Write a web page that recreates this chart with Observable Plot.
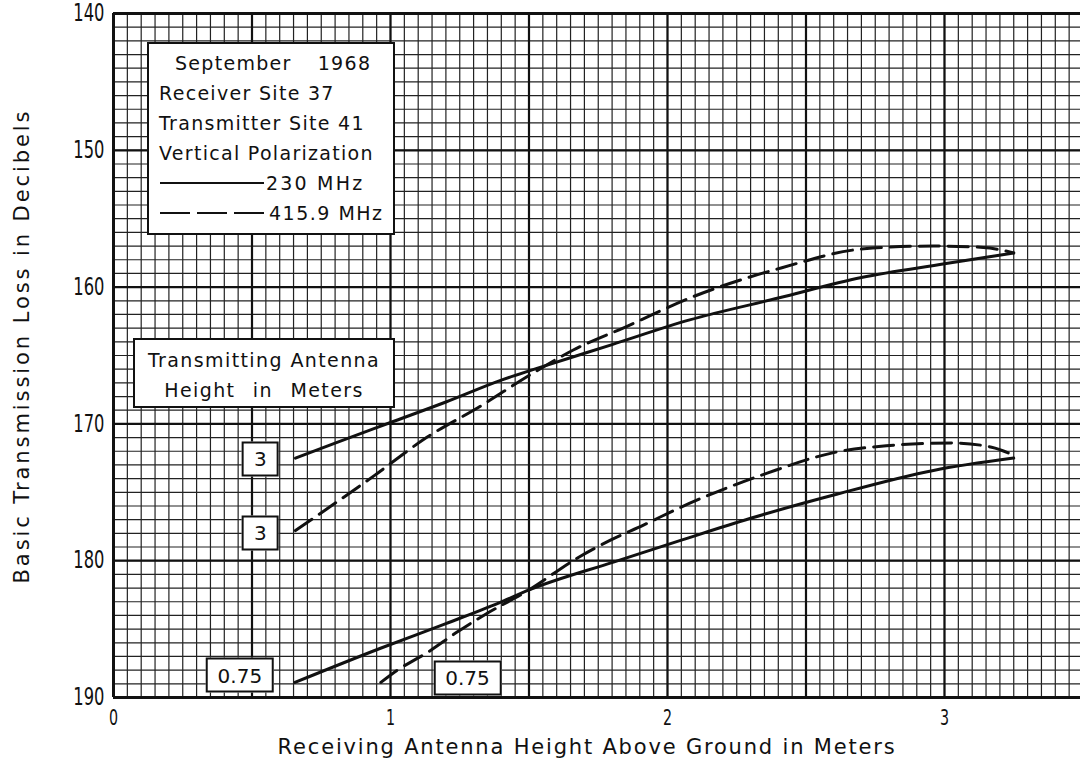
<!DOCTYPE html>
<html>
<head>
<meta charset="utf-8">
<script src="https://cdn.jsdelivr.net/npm/d3@7"></script>
<script src="https://cdn.jsdelivr.net/npm/@observablehq/plot@0.6"></script>
<style>
  body { margin: 0; background: #fff; }
  #wrap { position: relative; width: 1080px; height: 764px; overflow: hidden; font-family: "DejaVu Sans", "Noto Sans", sans-serif; color: #111; }
  #wrap > svg { position: absolute; left: 0; top: 0; }
  g[aria-label^="y-axis"] text { font-family: "DejaVu Sans", sans-serif; font-size: 24px; fill: #111; }
  g[aria-label^="x-axis"] text { font-family: "DejaVu Sans", sans-serif; font-size: 21px; fill: #111; }
  .box { position: absolute; background: #fff; border: 2px solid #111; box-sizing: border-box; }
  .legend { font-size: 19px; letter-spacing: 1.3px; line-height: 30px; padding: 4px 0 0 10px; white-space: nowrap; }
  .legend .row { height: 30px; display: flex; align-items: center; }
  .legend .row svg { display: block; }
  .tam { font-size: 19px; letter-spacing: 1.4px; line-height: 30px; padding-top: 5px; text-align: center; white-space: nowrap; }
  .lbl { display: flex; align-items: center; justify-content: center; height: 35px; min-width: 35px; padding: 0 10px; font-size: 20px; transform: translate(-50%, -50%); }
  .title { position: absolute; font-size: 21px; white-space: nowrap; }
</style>
</head>
<body>
<div id="wrap"></div>
<script>
// ---- Axis ticks ----
const xTicks = [0, 1, 2, 3];
const yTicks = [140, 150, 160, 170, 180, 190];

// ---- Curves (receiving antenna height in m, basic transmission loss in dB) ----
// Transmitting antenna height 3 m, 230 MHz (solid)
const tx3_230_x = [0.657, 0.80, 1.00, 1.20, 1.40, 1.52, 1.80, 2.08, 2.40, 2.70, 3.00, 3.25];
const tx3_230_y = [172.5, 171.4, 169.9, 168.4, 166.8, 166.0, 164.2, 162.4, 160.8, 159.3, 158.3, 157.5];
// Transmitting antenna height 3 m, 415.9 MHz (dashed)
const tx3_416_x = [0.657, 0.94, 1.13, 1.325, 1.505, 1.66, 1.85, 2.08, 2.41, 2.71, 2.96, 3.14, 3.25];
const tx3_416_y = [177.8, 173.8, 171.0, 168.7, 166.4, 164.6, 162.9, 160.8, 158.6, 157.2, 157.0, 157.1, 157.5];
// Transmitting antenna height 0.75 m, 230 MHz (solid)
const tx075_230_x = [0.655, 0.964, 1.20, 1.39, 1.505, 1.805, 2.05, 2.30, 2.60, 2.96, 3.25];
const tx075_230_y = [188.9, 186.4, 184.6, 183.1, 182.1, 180.1, 178.5, 176.9, 175.2, 173.4, 172.5];
// Transmitting antenna height 0.75 m, 415.9 MHz (dashed)
const tx075_416_x = [0.965, 1.025, 1.134, 1.242, 1.336, 1.495, 1.675, 1.794, 1.913, 2.047, 2.36, 2.60, 2.79, 3.03, 3.17, 3.25];
const tx075_416_y = [188.9, 188.0, 186.7, 185.2, 184.0, 182.2, 179.8, 178.5, 177.4, 176.1, 173.6, 172.1, 171.6, 171.4, 171.7, 172.3];

// ---- Curve labels (transmitting antenna height) ----
const labelText = ["3", "3", "0.75", "0.75"];
const labelX = [0.532, 0.532, 0.458, 1.28];
const labelY = [172.6, 178.0, 188.4, 188.6];

// ---- Legend text ----
const legendLines = ["September", "1968", "Receiver Site 37", "Transmitter Site 41", "Vertical Polarization", "230 MHz", "415.9 MHz"];
const boxLines = ["Transmitting Antenna", "Height in Meters"];
const xTitle = "Receiving Antenna Height Above Ground in Meters";
const yTitle = "Basic Transmission Loss in Decibels";

// build table
function series(xs, ys, name, freq) { return xs.map((x, i) => ({x, y: ys[i], name, freq})); }
const curves = [
  ...series(tx3_230_x, tx3_230_y, "3m-230", "230"),
  ...series(tx3_416_x, tx3_416_y, "3m-416", "415.9"),
  ...series(tx075_230_x, tx075_230_y, "0.75m-230", "230"),
  ...series(tx075_416_x, tx075_416_y, "0.75m-416", "415.9")
];

const xMax = 3.491;
const gridX = d3.range(0, 70).map(i => +(i * 0.05).toFixed(2));
const gridY = d3.range(140, 191);
const majorX = gridX.filter(v => Math.abs(v * 2 - Math.round(v * 2)) < 1e-6);
const majorY = gridY.filter(v => v % 10 === 0);

const plot = Plot.plot({
  width: 1080,
  height: 764,
  marginLeft: 113,
  marginRight: 0,
  marginTop: 13,
  marginBottom: 67,
  style: {background: "#fff", color: "#111"},
  x: {domain: [0, xMax], ticks: xTicks, tickSize: 0, tickPadding: 13, tickFormat: d => String(d), label: null},
  y: {domain: [140, 190], reverse: true, ticks: yTicks, tickSize: 0, tickPadding: 9, tickFormat: d => String(d), label: null},
  marks: [
    Plot.ruleX(gridX, {stroke: "#222", strokeWidth: 1.2}),
    Plot.ruleY(gridY, {stroke: "#222", strokeWidth: 1.2}),
    Plot.ruleX(majorX, {stroke: "#111", strokeWidth: 2.2}),
    Plot.ruleY(majorY, {stroke: "#111", strokeWidth: 2.2}),
    Plot.ruleX([0], {stroke: "#111", strokeWidth: 3}),
    Plot.ruleY([140, 190], {stroke: "#111", strokeWidth: 3}),
    Plot.line(curves.filter(d => d.freq === "230"), {x: "x", y: "y", z: "name", stroke: "#111", strokeWidth: 3, curve: "monotone-x"}),
    Plot.line(curves.filter(d => d.freq === "415.9"), {x: "x", y: "y", z: "name", stroke: "#111", strokeWidth: 3, strokeDasharray: "20,9", curve: "monotone-x"})
  ]
});

const wrap = document.getElementById("wrap");
wrap.appendChild(plot);

// condense tick labels horizontally (narrow lettering), anchored at their own position
function condense(selector, s, anchor) {
  plot.querySelectorAll(selector).forEach(t => {
    const b = t.getBBox();
    const cx = anchor === "end" ? b.x + b.width : b.x + b.width / 2;
    const cy = b.y + b.height / 2;
    const prev = t.getAttribute("transform") || "";
    t.setAttribute("transform", `${prev} translate(${cx},${cy}) scale(${s},1) translate(${-cx},${-cy})`);
  });
}
condense('g[aria-label^="y-axis"] text', 0.68, "end");
condense('g[aria-label^="x-axis"] text', 0.68, "middle");

const sx = plot.scale("x"), sy = plot.scale("y");
const fx = d3.scaleLinear().domain(sx.domain).range(sx.range);
const fy = d3.scaleLinear().domain(sy.domain).range(sy.range);

// Legend box
const leg = document.createElement("div");
leg.className = "box legend";
Object.assign(leg.style, {left: "147px", top: "42px", width: "248px", height: "193px"});
leg.innerHTML = `
  <div class="row"><span style="margin-left:16px">${legendLines[0]}</span><span style="margin-left:26px">${legendLines[1]}</span></div>
  <div class="row">${legendLines[2]}</div>
  <div class="row">${legendLines[3]}</div>
  <div class="row">${legendLines[4]}</div>
  <div class="row"><svg width="104" height="4" style="margin-left:1px"><line x1="0" x2="104" y1="2" y2="2" stroke="#111" stroke-width="2"/></svg><span style="margin-left:2px;letter-spacing:2.2px">${legendLines[5]}</span></div>
  <div class="row"><svg width="108" height="4" style="margin-left:1px"><line x1="0" x2="108" y1="2" y2="2" stroke="#111" stroke-width="2" stroke-dasharray="30,7"/></svg><span style="margin-left:1px;letter-spacing:1.5px">${legendLines[6]}</span></div>`;
wrap.appendChild(leg);

// Transmitting antenna box
const tam = document.createElement("div");
tam.className = "box tam";
Object.assign(tam.style, {left: "133px", top: "338px", width: "262px", height: "70px"});
tam.innerHTML = `<div>${boxLines[0]}</div><div style="word-spacing:10px">${boxLines[1]}</div>`;
wrap.appendChild(tam);

// Curve labels
labelText.forEach((t, i) => {
  const d = document.createElement("div");
  d.className = "box lbl";
  d.style.left = fx(labelX[i]) + "px";
  d.style.top = fy(labelY[i]) + "px";
  d.textContent = t;
  wrap.appendChild(d);
});

// Axis titles: spread letters over the span they cover in the original
function title(text, span) {
  const el = document.createElement("div");
  el.className = "title";
  el.textContent = text;
  wrap.appendChild(el);
  const w0 = el.getBoundingClientRect().width;
  el.style.letterSpacing = ((span - w0) / (text.length - 1)) + "px";
  return el;
}
const xt = title(xTitle, 617);
const xw = xt.getBoundingClientRect().width;
xt.style.left = (587 - xw / 2) + "px";
xt.style.top = (748 - 13) + "px";

const yt = title(yTitle, 472);
const yr = yt.getBoundingClientRect();
yt.style.left = (22 - yr.width / 2) + "px";
yt.style.top = (346 - yr.height / 2) + "px";
yt.style.transform = "rotate(-90deg)";
</script>
</body>
</html>
